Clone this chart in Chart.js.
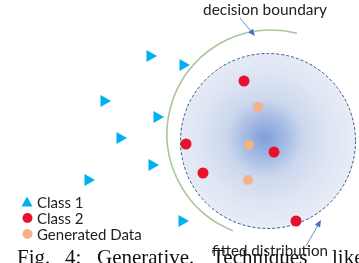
<!DOCTYPE html>
<html>
<head>
<meta charset="utf-8">
<script src="https://cdn.jsdelivr.net/npm/chart.js@4.4.1/dist/chart.umd.min.js"></script>
<style>
  html, body { margin: 0; padding: 0; background: #fff; }
  #wrap { width: 359px; height: 263px; position: relative; overflow: hidden; }
</style>
</head>
<body>
<div id="wrap"><canvas id="sketch"></canvas></div>
<script>
// data (x, y in figure units)
const seriesNames = ["Class 1", "Class 2", "Generated Data"];
const class1X = [150, 183, 104, 157, 120, 152, 88, 182];
const class1Y = [56, 65, 101, 117, 138, 165, 180, 221];
const class2X = [244, 186, 274, 203, 296];
const class2Y = [81, 144, 152, 173, 221];
const generatedX = [258, 249, 248];
const generatedY = [107, 145, 180];

// fitted distribution + decision boundary
const fitCenter = [268, 141];
const fitRadius = 87.5;
const blobCenter = [265, 138];
const boundaryCenter = [271, 134];
const boundaryRadius = 104;
const boundaryStart = [297, 33];
const boundaryEnd = [233, 230];

const captionWords = ["Fig.", "4:", "Generative.", "Techniques", "like"];
const captionX = [17, 65, 97, 212, 332];

const SANS = "Lato, 'Open Sans', sans-serif";

function toPoints(xs, ys) {
    return xs.map((x, i) => ({ x: x, y: ys[i] }));
}

const colors = ["#00B0F0", "#E8112D", "#F4B183"];

const backdrop = {
    id: "backdrop",
    beforeDatasetsDraw(chart) {
        const ctx = chart.ctx;
        const xs = chart.scales.x, ys = chart.scales.y;
        const px = v => xs.getPixelForValue(v);
        const py = v => ys.getPixelForValue(v);
        const unit = px(1) - px(0);

        // fitted distribution
        const cx = px(fitCenter[0]), cy = py(fitCenter[1]), r = fitRadius * unit;
        const g = ctx.createRadialGradient(px(blobCenter[0]), py(blobCenter[1]), 0, px(blobCenter[0]), py(blobCenter[1]), r);
        g.addColorStop(0, "#7F9FD9");
        g.addColorStop(0.2, "#9FB6E2");
        g.addColorStop(0.45, "#CDD8EE");
        g.addColorStop(0.75, "#DEE5F3");
        g.addColorStop(1, "#E7ECF6");
        ctx.save();
        ctx.beginPath();
        ctx.arc(cx, cy, r, 0, Math.PI * 2);
        ctx.fillStyle = g;
        ctx.fill();
        ctx.setLineDash([3, 2]);
        ctx.lineWidth = 1;
        ctx.strokeStyle = "#2F5597";
        ctx.stroke();
        ctx.setLineDash([]);

        // decision boundary
        const bx = px(boundaryCenter[0]), by = py(boundaryCenter[1]);
        const a0 = Math.atan2(py(boundaryStart[1]) - by, px(boundaryStart[0]) - bx);
        const a1 = Math.atan2(py(boundaryEnd[1]) - by, px(boundaryEnd[0]) - bx);
        ctx.beginPath();
        ctx.arc(bx, by, boundaryRadius * unit, a0, a1, true);
        ctx.strokeStyle = "#A9C79A";
        ctx.lineWidth = 1.6;
        ctx.stroke();
        ctx.restore();
    },
    afterDatasetsDraw(chart) {
        const ctx = chart.ctx;
        ctx.save();

        // caption
        ctx.fillStyle = "#111";
        ctx.font = "21px 'Liberation Serif', serif";
        ctx.textBaseline = "alphabetic";
        ctx.textAlign = "left";
        captionWords.forEach((w, i) => ctx.fillText(w, captionX[i], 264));

        // labels
        ctx.fillStyle = "#222";
        ctx.font = "16px " + SANS;
        ctx.textBaseline = "middle";
        ctx.fillText("decision boundary", 203, 10, 124);
        ctx.fillText("fitted distribution", 212, 251, 116);

        // arrows
        arrow(ctx, 240, 18, 255, 36);
        arrow(ctx, 306, 246, 321, 220);

        // legend
        const ly = [202, 218, 234];
        ctx.font = "15px " + SANS;
        chart.data.datasets.forEach((ds, i) => {
            ctx.fillStyle = ds.backgroundColor;
            ctx.beginPath();
            if (i === 0) {
                ctx.moveTo(27, ly[i] - 5.5);
                ctx.lineTo(32.5, ly[i] + 4.5);
                ctx.lineTo(21.5, ly[i] + 4.5);
                ctx.closePath();
            } else {
                ctx.arc(27.5, ly[i], 5, 0, Math.PI * 2);
            }
            ctx.fill();
            ctx.fillStyle = "#222";
            ctx.fillText(ds.label, 37, ly[i] + 1);
        });
        ctx.restore();
    }
};

function arrow(ctx, x0, y0, x1, y1) {
    const ang = Math.atan2(y1 - y0, x1 - x0);
    ctx.strokeStyle = "#4472C4";
    ctx.fillStyle = "#4472C4";
    ctx.lineWidth = 0.8;
    ctx.beginPath();
    ctx.moveTo(x0, y0);
    ctx.lineTo(x1 - Math.cos(ang) * 5, y1 - Math.sin(ang) * 5);
    ctx.stroke();
    ctx.beginPath();
    ctx.moveTo(x1, y1);
    ctx.lineTo(x1 - Math.cos(ang) * 7 - Math.sin(ang) * 3, y1 - Math.sin(ang) * 7 + Math.cos(ang) * 3);
    ctx.lineTo(x1 - Math.cos(ang) * 7 + Math.sin(ang) * 3, y1 - Math.sin(ang) * 7 - Math.cos(ang) * 3);
    ctx.closePath();
    ctx.fill();
}

new Chart(document.getElementById("sketch").getContext("2d"), {
    type: "scatter",
    data: {
        datasets: [{
            label: seriesNames[0],
            data: toPoints(class1X, class1Y),
            backgroundColor: colors[0],
            pointStyle: "triangle",
            rotation: 90,
            pointRadius: 7,
            borderWidth: 0
        }, {
            label: seriesNames[1],
            data: toPoints(class2X, class2Y),
            backgroundColor: colors[1],
            pointRadius: 5.5,
            borderWidth: 0
        }, {
            label: seriesNames[2],
            data: toPoints(generatedX, generatedY),
            backgroundColor: colors[2],
            pointRadius: 5,
            borderWidth: 0
        }]
    },
    options: {
        responsive: true,
        maintainAspectRatio: false,
        animation: false,
        layout: { padding: 0, autoPadding: false },
        scales: {
            x: { type: "linear", min: 0, max: 359, display: false },
            y: { type: "linear", min: 0, max: 263, reverse: true, display: false }
        },
        plugins: {
            legend: { display: false },
            tooltip: { enabled: false }
        }
    },
    plugins: [backdrop]
});
</script>
</body>
</html>
